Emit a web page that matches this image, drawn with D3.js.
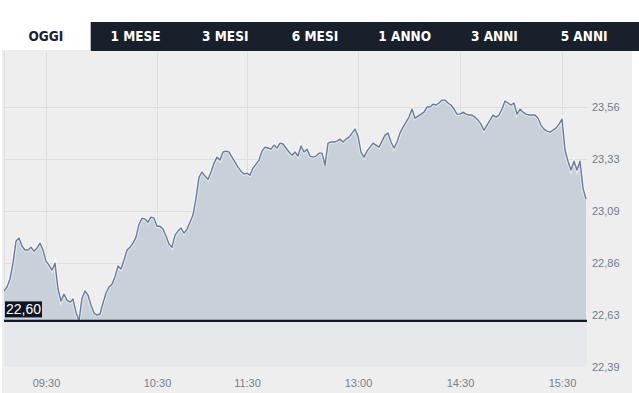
<!DOCTYPE html>
<html>
<head>
<meta charset="utf-8">
<script src="https://cdn.jsdelivr.net/npm/d3@7"></script>
<style>
    body { margin: 0; background: #ffffff; }
</style>
</head>
<body>
<div id="div_chart"></div>
<script>
// Data
var tabs = ["OGGI", "1 MESE", "3 MESI", "6 MESI", "1 ANNO", "3 ANNI", "5 ANNI"];
var activeTab = "OGGI";

var prices = [
    22.734, 22.752, 22.788, 22.859, 22.958, 22.972, 22.936, 22.918, 22.918, 22.931,
    22.913, 22.927, 22.949, 22.918, 22.868, 22.850, 22.828, 22.859, 22.743, 22.689,
    22.720, 22.693, 22.684, 22.698, 22.639, 22.599, 22.702, 22.734, 22.716, 22.671,
    22.635, 22.626, 22.631, 22.680, 22.725, 22.752, 22.765, 22.797, 22.846, 22.833,
    22.873, 22.918, 22.931, 22.949, 22.976, 23.034, 23.061, 23.057, 23.043, 23.066,
    23.061, 23.025, 23.025, 23.012, 22.981, 22.945, 22.931, 22.985, 23.003, 23.017,
    22.994, 23.012, 23.043, 23.075, 23.151, 23.245, 23.268, 23.250, 23.236, 23.268,
    23.308, 23.335, 23.322, 23.358, 23.362, 23.358, 23.335, 23.313, 23.290, 23.272,
    23.259, 23.263, 23.254, 23.286, 23.304, 23.322, 23.362, 23.380, 23.376, 23.371,
    23.389, 23.376, 23.398, 23.394, 23.376, 23.358, 23.344, 23.358, 23.340, 23.385,
    23.358, 23.371, 23.340, 23.335, 23.340, 23.353, 23.353, 23.299, 23.398, 23.403,
    23.403, 23.407, 23.416, 23.403, 23.416, 23.425, 23.443, 23.461, 23.429, 23.358,
    23.335, 23.362, 23.380, 23.398, 23.389, 23.380, 23.407, 23.434, 23.443, 23.403,
    23.376, 23.403, 23.443, 23.470, 23.492, 23.515, 23.551, 23.510, 23.519, 23.528,
    23.537, 23.560, 23.560, 23.573, 23.569, 23.578, 23.591, 23.591, 23.578, 23.569,
    23.551, 23.528, 23.528, 23.537, 23.528, 23.524, 23.524, 23.515, 23.501, 23.483,
    23.456, 23.479, 23.501, 23.524, 23.515, 23.524, 23.551, 23.587, 23.578, 23.569,
    23.578, 23.528, 23.551, 23.537, 23.528, 23.524, 23.524, 23.524, 23.510, 23.479,
    23.461, 23.452, 23.447, 23.456, 23.465, 23.483, 23.506, 23.367, 23.317, 23.277,
    23.317, 23.277, 23.317, 23.196, 23.147
];

var timeLabels = ["09:30", "10:30", "11:30", "13:00", "14:30", "15:30"];
var timeIndex = [14, 51, 81, 118, 152, 186];   // position of each label in the price list
var priceTicks = [22.393, 22.627, 22.860, 23.093, 23.327, 23.560];
var priceDomain = [22.393, 23.807];
var prevClose = 22.60;

// Basic size information
var svgWidth = 639;
var svgHeight = 393;
var plot = {left: 4, right: 587, top: 52, bottom: 367};

var svg = d3.select("#div_chart")
    .append("svg")
        .attr("width", svgWidth)
        .attr("height", svgHeight)
        .style("display", "block");

// Chart background
svg.append("rect")
    .attr("x", 2)
    .attr("y", 50)
    .attr("width", 630)
    .attr("height", svgHeight - 50)
    .attr("fill", "#efeeee");

// Tabs
var tabX = d3.scaleBand()
    .domain(tabs)
    .range([0, 628]);

svg.append("rect")
    .attr("x", tabX(tabs[1]) + 1)
    .attr("y", 22)
    .attr("width", svgWidth - tabX(tabs[1]) - 1)
    .attr("height", 29)
    .attr("fill", "#18202c");

svg.append("g")
    .selectAll("text")
    .data(tabs)
    .join("text")
        .attr("x", d => tabX(d) + tabX.bandwidth() / 2 + 1)
        .attr("y", 41)
        .attr("text-anchor", "middle")
        .attr("fill", d => d === activeTab ? "#1b2230" : "#ffffff")
        .style("font", "bold 13.5px 'DejaVu Sans Condensed', 'DejaVu Sans', sans-serif")
        .text(d => d);

// Scales
var x = d3.scaleLinear()
    .domain([0, prices.length - 1])
    .range([plot.left, plot.right - 1]);

var y = d3.scaleLinear()
    .domain(priceDomain)
    .range([plot.bottom, plot.top]);

var fmt = d => d3.format(".2f")(d).replace(".", ",");

// Grid
var grid = svg.append("g")
    .attr("stroke", "#dedede")
    .attr("stroke-width", 1)
    .style("shape-rendering", "crispEdges");

grid.selectAll(".h")
    .data(priceTicks.slice(1))
    .join("line")
        .attr("x1", plot.left)
        .attr("x2", plot.right)
        .attr("y1", d => Math.round(y(d)) + 0.5)
        .attr("y2", d => Math.round(y(d)) + 0.5);

grid.selectAll(".v")
    .data(timeIndex)
    .join("line")
        .attr("x1", d => Math.round(x(d)) + 0.5)
        .attr("x2", d => Math.round(x(d)) + 0.5)
        .attr("y1", plot.top)
        .attr("y2", plot.bottom);

grid.append("line")
    .attr("x1", plot.left + 0.5)
    .attr("x2", plot.left + 0.5)
    .attr("y1", plot.top)
    .attr("y2", plot.bottom);

// Band under the previous close
svg.append("rect")
    .attr("x", plot.left)
    .attr("y", y(prevClose))
    .attr("width", plot.right - plot.left)
    .attr("height", plot.bottom - y(prevClose))
    .attr("fill", "#e6e8eb");

// Area + line
var area = d3.area()
    .x((d, i) => x(i))
    .y0(y(prevClose))
    .y1(d => y(d));

var line = d3.line()
    .x((d, i) => x(i))
    .y(d => y(d));

svg.append("path")
    .datum(prices)
    .attr("d", area)
    .attr("fill", "#c8d0d9");

svg.append("path")
    .datum(prices)
    .attr("d", line)
    .attr("fill", "none")
    .attr("stroke", "#ffffff")
    .attr("stroke-opacity", 0.5)
    .attr("stroke-width", 3.5);

svg.append("path")
    .datum(prices)
    .attr("d", line)
    .attr("fill", "none")
    .attr("stroke", "#667c9a")
    .attr("stroke-width", 1.4)
    .attr("stroke-linejoin", "round");

// Previous close line and label
svg.append("line")
    .attr("x1", plot.left)
    .attr("x2", plot.right)
    .attr("y1", y(prevClose))
    .attr("y2", y(prevClose))
    .attr("stroke", "#121a26")
    .attr("stroke-width", 2.2);

svg.append("rect")
    .attr("x", 5)
    .attr("y", y(prevClose) - 19.5)
    .attr("width", 37)
    .attr("height", 16)
    .attr("fill", "#0f1520");

svg.append("text")
    .attr("x", 23.5)
    .attr("y", y(prevClose) - 6.5)
    .attr("text-anchor", "middle")
    .attr("fill", "#ffffff")
    .style("font", "14px 'Liberation Sans', Arial, sans-serif")
    .text(fmt(prevClose));

// Axes
var yAxis = g => g
    .attr("transform", "translate(592,0)")
    .call(d3.axisRight(y).tickValues(priceTicks).tickFormat(fmt).tickSize(0).tickPadding(0))
    .call(g => g.select(".domain").remove())
    .call(g => g.selectAll("text")
        .attr("fill", "#6d7a8f")
        .style("font", "11px 'Liberation Sans', Arial, sans-serif"));

var xAxis = g => g
    .attr("transform", "translate(0," + plot.bottom + ")")
    .call(d3.axisBottom(x).tickValues(timeIndex).tickFormat((d, i) => timeLabels[i]).tickSize(0).tickPadding(12))
    .call(g => g.select(".domain").remove())
    .call(g => g.selectAll("text")
        .attr("fill", "#737d8e")
        .style("font", "11px 'Liberation Sans', Arial, sans-serif"));

svg.append("g").call(yAxis);
svg.append("g").call(xAxis);
</script>
</body>
</html>
